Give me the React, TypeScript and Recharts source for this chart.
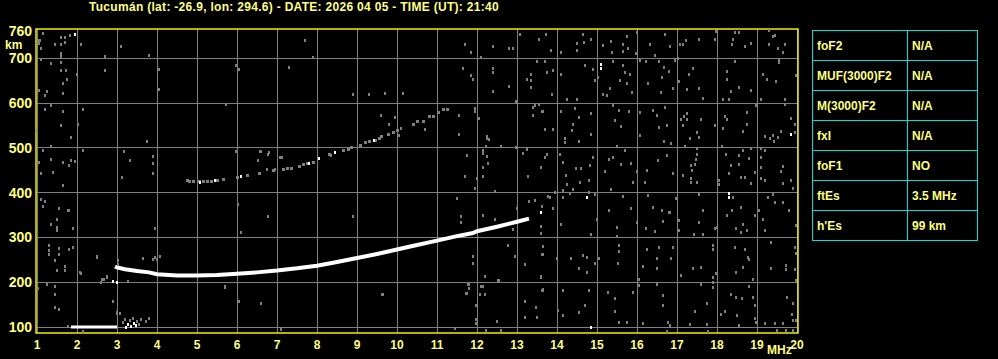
import React from 'react';
import { ComposedChart, XAxis, YAxis, CartesianGrid, Line, Scatter, ReferenceArea } from 'recharts';

const TITLE = 'Tucumán (lat: -26.9, lon: 294.6) - DATE: 2026 04 05 - TIME (UT): 21:40';
const freqTicks = [1, 2, 3, 4, 5, 6, 7, 8, 9, 10, 11, 12, 13, 14, 15, 16, 17, 18, 19, 20];
const heightTicks = [100, 200, 300, 400, 500, 600, 700, 760];
const gridHeights = [100, 200, 300, 400, 500, 600, 700];
const freqDomain = [0.975, 20.025];
const heightDomain = [86.6, 765.6];

const tableRows: [string, string][] = [
  ['foF2', 'N/A'],
  ['MUF(3000)F2', 'N/A'],
  ['M(3000)F2', 'N/A'],
  ['fxI', 'N/A'],
  ['foF1', 'NO'],
  ['ftEs', '3.5 MHz'],
  ["h'Es", '99 km'],
];

// sporadic E trace (white)
const esTrace: [number, number][] = [[1.85, 100], [2.4, 100], [3.0, 100]];

// main E/F trace (white)
const fTrace: [number, number][] = [
  [2.95, 235], [3.0, 233], [3.2, 229], [3.5, 225], [3.8, 222], [4.0, 218], [4.5, 215], [5.0, 215],
  [5.5, 216], [6.0, 219], [6.5, 222], [7.0, 226], [7.5, 231], [8.0, 237], [8.5, 245], [9.0, 254],
  [9.5, 263], [10.0, 273], [10.5, 283], [11.0, 293], [11.5, 303], [11.9, 310], [12.0, 314],
  [12.5, 324], [13.0, 335], [13.3, 342],
];

// second-hop trace (gray echoes)
const multiHop: [number, number][] = [
  [4.75, 428], [4.82, 426], [4.9, 424], [5.05, 425], [5.15, 426], [5.25, 424], [5.35, 425], [5.5, 427],
  [5.65, 430], [6.0, 435], [6.25, 438], [6.55, 443], [6.9, 449], [7.15, 452], [7.25, 454], [7.35, 455],
  [7.55, 458], [7.65, 462], [7.75, 465], [7.9, 467], [8.3, 485], [8.65, 494], [8.78, 497], [8.86, 500],
  [9.09, 505], [9.21, 512], [9.3, 514], [9.45, 517], [9.55, 520], [9.61, 526], [9.79, 531], [9.9, 535],
  [10.0, 540], [10.4, 552], [10.5, 559], [10.65, 559], [10.82, 570], [10.9, 570], [11.03, 579],
  [11.15, 585], [11.26, 586],
];

// bright isolated echoes (white)
const whiteEchoes: [number, number][] = [
  [2.91, 201], [3.0, 200], [5.08, 423], [5.45, 428], [6.1, 436], [7.8, 466], [8.05, 477], [8.45, 489],
  [9.42, 516], [13.59, 355], [14.74, 390], [13.6, 355], [14.84, 99], [15.09, 687], [15.09, 678],
  [18.29, 399], [18.29, 390], [19.84, 531], [1.95, 754], [3.22, 100], [3.28, 106], [3.35, 101],
  [3.42, 108], [3.48, 103],
];

const noiseLow: [number, number][] = [
  [1.14, 756], [1.59, 747], [1.7, 747], [1.83, 750], [1.03, 741], [1.08, 739], [1.06, 733], [1.45, 730],
  [1.59, 730], [1.7, 735], [2.09, 730], [1.09, 722], [1.59, 711], [1.59, 704], [1.09, 698], [1.34, 689],
  [1.59, 691], [2.7, 704], [2.7, 674], [1.59, 674], [1.73, 674], [1.74, 652], [1.64, 644], [1.99, 663],
  [1.05, 628], [1.2, 618], [1.24, 625], [1.64, 622], [1.2, 586], [1.34, 594], [1.64, 581], [2.14, 586],
  [2.03, 553], [1.59, 549], [1.84, 523], [1.0, 540], [1.14, 495], [1.34, 503], [2.14, 495], [1.05, 467],
  [1.34, 474], [1.39, 445], [1.66, 468], [1.81, 460], [1.84, 471], [1.95, 469], [1.09, 443], [1.64, 417],
  [1.2, 380], [1.09, 385], [1.14, 369], [1.55, 365], [1.8, 361], [1.49, 341], [1.34, 330], [1.49, 323],
  [1.49, 315], [1.89, 320], [1.78, 360], [1.3, 281], [1.3, 271], [1.3, 261], [1.56, 276], [1.56, 261],
  [1.45, 248], [1.49, 226], [1.7, 235], [1.7, 226], [1.8, 272], [1.89, 278], [2.49, 256], [2.09, 219],
  [2.62, 205], [2.74, 211], [1.03, 187], [1.24, 194], [1.45, 190], [1.45, 172], [1.45, 144], [1.56, 140],
  [2.89, 157], [3.01, 131], [1.78, 102], [2.14, 90], [3.09, 727], [3.79, 706], [4.04, 675], [4.04, 630],
  [3.75, 514], [3.13, 433], [3.18, 491], [3.33, 473], [3.27, 201], [3.07, 131], [3.79, 119], [3.73, 112],
  [3.03, 248], [3.03, 239], [2.49, 257], [3.65, 254], [3.9, 250], [3.95, 255], [2.6, 200], [2.68, 206],
  [2.75, 213], [2.08, 221], [2.9, 156], [3.0, 133], [3.91, 480], [3.91, 466], [3.91, 443], [3.95, 320],
  [4.0, 250], [4.08, 257], [3.15, 110], [3.32, 114], [3.5, 112], [3.55, 106], [3.6, 116], [3.2, 117],
  [3.4, 118],
];

const noiseMid: [number, number][] = [
  [5.98, 684], [6.04, 675], [5.73, 598], [7.29, 679], [7.69, 739], [7.9, 703], [9.69, 621], [10.15, 621],
  [11.69, 731], [11.84, 712], [12.09, 701], [12.4, 726], [12.79, 723], [12.9, 723], [13.07, 753],
  [13.54, 743], [11.65, 678], [11.84, 661], [11.9, 652], [12.4, 678], [12.4, 669], [12.4, 626],
  [12.79, 637], [13.26, 652], [13.36, 665], [13.36, 650], [13.36, 634], [13.49, 693], [12.98, 603],
  [11.94, 589], [11.96, 581], [12.04, 565], [11.54, 572], [11.54, 529], [12.26, 526], [12.29, 518],
  [12.23, 504], [12.59, 504], [12.98, 500], [13.26, 496], [13.4, 591], [13.46, 594], [13.54, 598],
  [13.4, 572], [13.62, 581], [9.61, 572], [9.94, 567], [10.09, 544], [10.05, 527], [9.79, 553],
  [10.69, 541], [5.98, 492], [6.59, 492], [6.79, 489], [11.74, 484], [12.16, 488], [12.28, 466],
  [12.16, 457], [11.7, 437], [12.16, 437], [11.95, 410], [12.45, 402], [13.16, 488], [13.28, 436],
  [13.59, 457], [13.78, 391], [13.31, 380], [13.45, 382], [13.62, 369], [13.59, 324], [13.59, 309],
  [13.62, 261], [12.99, 365], [12.78, 283], [12.95, 257], [13.2, 239], [13.59, 213], [13.66, 183],
  [12.53, 204], [12.2, 213], [12.14, 190], [12.08, 172], [11.78, 194], [11.76, 175], [11.91, 257],
  [11.89, 242], [11.59, 347], [11.59, 333], [11.49, 386], [12.14, 350], [12.45, 339], [12.91, 317],
  [9.63, 172], [5.7, 190], [8.89, 346], [6.78, 346], [6.09, 311], [6.03, 373], [6.58, 492], [6.78, 486],
  [6.53, 473], [6.74, 451], [6.95, 451], [7.12, 479], [8.34, 484], [5.69, 189], [6.04, 157], [6.59, 153],
  [7.09, 95], [9.65, 172], [11.44, 97], [11.79, 194], [11.79, 185], [11.73, 174], [12.09, 190],
  [12.19, 172], [12.19, 212], [12.54, 204], [11.98, 147], [11.98, 116], [11.98, 108], [12.5, 112],
  [12.23, 93], [12.59, 93], [13.19, 157], [13.19, 121], [13.48, 143], [13.51, 121], [13.59, 212],
  [13.62, 181], [7.08, 478], [8.9, 620], [9.3, 620], [11.95, 588], [12.03, 566], [12.25, 522],
  [12.16, 495], [12.25, 481], [11.99, 432],
];

const noiseHigh1: [number, number][] = [
  [13.73, 754], [14.66, 754], [14.68, 736], [14.49, 734], [14.84, 742], [15.16, 728], [15.34, 737],
  [15.74, 749], [15.66, 732], [15.78, 721], [16.01, 757], [16.33, 732], [16.7, 754], [13.85, 717],
  [14.09, 712], [14.49, 717], [15.37, 713], [15.64, 715], [15.97, 710], [16.45, 706], [13.7, 693],
  [13.91, 672], [13.74, 669], [14.1, 665], [14.7, 684], [14.89, 675], [14.95, 650], [15.03, 658],
  [15.41, 693], [15.66, 685], [15.7, 669], [15.83, 665], [15.58, 650], [15.76, 643], [15.33, 632],
  [15.16, 620], [15.24, 618], [15.87, 624], [16.08, 695], [16.23, 693], [16.56, 693], [16.68, 680],
  [16.27, 643], [16.62, 658], [16.81, 670], [16.59, 624], [13.87, 620], [14.24, 609], [14.49, 608],
  [13.66, 581], [14.11, 581], [14.45, 587], [14.55, 568], [14.85, 576], [15.41, 594], [15.55, 583],
  [15.79, 581], [15.45, 561], [15.6, 548], [16.08, 579], [16.41, 583], [16.51, 573], [16.71, 591],
  [13.69, 541], [13.89, 541], [14.2, 522], [14.41, 553], [14.37, 538], [14.56, 514], [14.84, 531],
  [16.08, 527], [16.56, 545], [16.74, 550], [16.68, 514], [14.2, 512], [15.51, 504], [15.7, 494],
  [13.74, 486], [13.7, 479], [13.6, 457], [14.08, 486], [14.14, 468], [14.23, 438], [14.26, 419],
  [14.48, 453], [14.59, 454], [14.83, 460], [14.89, 479], [14.58, 423], [14.14, 405], [14.41, 408],
  [14.81, 427], [15.2, 447], [15.31, 474], [15.41, 479], [15.6, 464], [15.85, 466], [15.99, 447],
  [16.24, 449], [16.52, 473], [16.74, 483], [16.2, 423], [15.89, 422], [13.96, 401], [14.33, 399],
  [13.83, 390], [13.91, 364], [14.16, 390], [14.81, 401], [14.95, 397], [15.34, 408], [15.64, 391],
  [16.28, 393], [16.41, 367], [16.62, 360], [16.81, 356], [15.3, 360], [15.84, 364], [14.99, 341],
  [14.1, 330], [15.51, 323], [15.99, 334], [16.23, 319], [16.45, 313], [16.66, 335], [13.6, 308],
  [14.84, 306], [15.51, 303], [15.56, 283], [15.55, 268], [16.24, 274], [16.54, 278], [16.51, 252],
  [13.66, 280], [13.64, 261], [13.99, 252], [14.35, 252], [14.64, 260], [14.74, 256], [14.95, 241],
  [15.05, 252], [15.52, 241], [16.16, 236], [16.49, 231], [14.56, 231], [14.74, 222], [13.6, 211],
  [16.06, 206], [16.06, 193], [16.49, 194], [13.66, 181], [14.14, 181], [14.81, 181], [15.28, 176],
  [15.45, 163], [15.89, 178], [16.66, 170], [14.03, 137], [14.14, 126], [14.55, 133], [14.7, 148],
  [15.45, 135], [15.74, 111], [15.56, 111], [16.14, 107], [16.66, 148], [16.78, 111], [16.74, 90],
];

const noiseHigh2: [number, number][] = [
  [16.82, 727], [17.07, 732], [17.15, 730], [17.23, 739], [17.55, 743], [17.98, 760], [17.96, 743],
  [18.4, 743], [18.38, 732], [18.44, 757], [18.55, 757], [18.71, 727], [18.84, 734], [19.3, 762],
  [19.4, 749], [19.44, 752], [19.69, 732], [19.53, 721], [19.65, 712], [19.3, 732], [16.94, 695],
  [17.03, 699], [16.8, 670], [17.05, 648], [16.9, 633], [17.3, 665], [17.4, 678], [17.55, 632],
  [17.25, 630], [17.65, 611], [18.44, 693], [18.25, 670], [18.25, 652], [18.54, 635], [18.34, 626],
  [18.15, 608], [18.29, 608], [18.84, 628], [19.15, 665], [19.25, 652], [19.48, 648], [19.55, 698],
  [19.55, 691], [19.98, 661], [19.69, 608], [19.09, 608], [19.69, 598], [17.11, 563], [17.18, 570],
  [17.15, 550], [17.25, 576], [17.25, 563], [17.59, 563], [17.51, 535], [17.55, 524], [17.32, 521],
  [17.21, 504], [16.86, 509], [17.94, 550], [18.15, 544], [18.21, 570], [18.26, 563], [18.75, 579],
  [18.75, 553], [18.65, 536], [18.98, 594], [19.19, 526], [19.32, 521], [19.4, 527], [19.43, 514],
  [19.53, 524], [19.61, 536], [19.84, 566], [19.94, 553], [19.94, 535], [17.51, 498], [17.51, 486],
  [17.48, 474], [17.34, 460], [17.44, 464], [17.38, 449], [17.15, 439], [16.9, 442], [17.34, 432],
  [17.34, 422], [17.51, 422], [18.13, 504], [18.23, 486], [18.54, 483], [18.65, 494], [18.79, 477],
  [18.84, 498], [18.34, 460], [18.54, 464], [18.29, 442], [18.59, 434], [18.71, 434], [18.94, 444],
  [18.86, 420], [18.04, 427], [18.04, 419], [19.09, 498], [19.19, 494], [19.11, 479], [19.09, 457],
  [19.09, 431], [19.19, 427], [19.61, 447], [19.65, 459], [19.86, 427], [19.9, 410], [19.65, 420],
  [18.4, 390], [17.55, 396], [16.98, 386], [16.82, 356], [17.04, 338], [17.04, 315], [17.65, 360],
  [17.55, 334], [17.94, 319], [18.01, 323], [17.43, 306], [17.65, 306], [18.25, 350], [18.38, 360],
  [18.59, 367], [18.48, 320], [18.59, 312], [18.65, 328], [18.76, 315], [18.94, 349], [19.04, 360],
  [19.15, 341], [19.19, 315], [19.28, 390], [19.4, 395], [19.44, 377], [19.65, 377], [19.79, 360],
  [19.98, 326], [16.9, 278], [16.84, 254], [17.09, 216], [17.4, 231], [17.59, 233], [17.9, 282],
  [17.9, 274], [17.98, 219], [17.9, 211], [17.9, 200], [18.44, 278], [18.69, 273], [18.77, 256],
  [18.79, 250], [18.65, 233], [18.48, 221], [18.9, 207], [19.34, 289], [19.94, 278], [19.97, 265],
  [19.34, 231], [19.73, 237], [19.73, 228], [19.94, 228], [19.98, 204], [17.59, 194], [17.9, 189],
  [17.44, 135], [17.76, 152], [18.09, 129], [18.19, 135], [18.36, 172], [18.48, 166], [18.63, 163],
  [18.9, 166], [18.94, 149], [18.8, 191], [18.51, 125], [18.96, 119], [18.98, 111], [19.19, 107],
  [19.46, 107], [19.65, 107], [19.76, 166], [19.9, 152], [19.88, 129], [19.9, 114], [19.98, 114],
  [16.82, 103], [17.32, 105], [17.76, 105], [18.54, 103], [19.51, 92], [19.73, 92], [19.9, 92],
  [17.78, 90],
];

const toPts = (arr: [number, number][]) => arr.map(([f, h]) => ({ f, h }));
const noisePts = toPts([...noiseLow, ...noiseMid, ...noiseHigh1, ...noiseHigh2]);

const YELLOW_TEXT = '#ffff80';
const FONT = '"Liberation Sans", Arial, sans-serif';

const GrayDot = (props: any) => {
  const { cx, cy } = props;
  if (cx == null || cy == null) return null;
  return <rect x={Math.round(cx - 1)} y={Math.round(cy - 1.5)} width={2} height={3} fill="#808080" />;
};
const GrayBlock = (props: any) => {
  const { cx, cy } = props;
  if (cx == null || cy == null) return null;
  return <rect x={Math.round(cx - 1.5)} y={Math.round(cy - 1.5)} width={3} height={3} fill="#808080" />;
};
const WhiteDot = (props: any) => {
  const { cx, cy } = props;
  if (cx == null || cy == null) return null;
  return <rect x={Math.round(cx - 1)} y={Math.round(cy - 1.5)} width={2} height={3} fill="#ffffff" />;
};

const css = `
.recharts-cartesian-grid line { shape-rendering: crispEdges; }
.recharts-scatter rect { shape-rendering: crispEdges; }
`;

export default function App() {
  return (
    <div style={{ position: 'absolute', left: 0, top: 0, width: 998, height: 359, background: '#000', overflow: 'hidden', fontFamily: FONT }}>
      <style>{css}</style>
      <div style={{ position: 'absolute', left: 0, top: 0, width: 588, textAlign: 'center', color: YELLOW_TEXT, fontSize: 12, letterSpacing: 0.3, fontWeight: 'bold', lineHeight: '14px' }}>
        {TITLE}
      </div>
      <ComposedChart width={998} height={359} margin={{ top: 29, right: 200, bottom: 0, left: 0 }}>
        <CartesianGrid stroke="#808080" strokeWidth={1} horizontalValues={gridHeights} verticalValues={freqTicks} />
        <XAxis
          type="number"
          dataKey="f"
          domain={freqDomain}
          ticks={freqTicks}
          allowDataOverflow
          height={26}
          axisLine={false}
          tickLine={false}
          tickSize={0}
          tickMargin={7}
          interval={0}
          tick={{ fill: YELLOW_TEXT, fontSize: 12, fontWeight: 'bold', fontFamily: FONT }}
        />
        <YAxis
          type="number"
          dataKey="h"
          domain={heightDomain}
          ticks={heightTicks}
          allowDataOverflow
          width={36}
          axisLine={false}
          tickLine={false}
          tickSize={0}
          tickMargin={4}
          interval={0}
          tick={{ fill: YELLOW_TEXT, fontSize: 14, fontWeight: 'bold', fontFamily: FONT }}
        />
        <Scatter data={noisePts} dataKey="h" shape={GrayDot} isAnimationActive={false} />
        <Scatter data={toPts(multiHop)} dataKey="h" shape={GrayBlock} isAnimationActive={false} />
        <Line data={toPts(esTrace)} dataKey="h" stroke="#ffffff" strokeWidth={3} dot={false} type="linear" isAnimationActive={false} />
        <Line data={toPts(fTrace)} dataKey="h" stroke="#ffffff" strokeWidth={4} dot={false} type="linear" isAnimationActive={false} />
        <Scatter data={toPts(whiteEchoes)} dataKey="h" shape={WhiteDot} isAnimationActive={false} />
        <ReferenceArea x1={freqDomain[0]} x2={freqDomain[1]} y1={heightDomain[0]} y2={heightDomain[1]} fill="none" stroke="#f0f000" strokeWidth={1.5} ifOverflow="visible" />
      </ComposedChart>
      <div style={{ position: 'absolute', left: 5, top: 38, color: YELLOW_TEXT, fontSize: 12, fontWeight: 'bold' }}>km</div>
      <div style={{ position: 'absolute', left: 767, top: 343, color: YELLOW_TEXT, fontSize: 12, fontWeight: 'bold' }}>MHz</div>
      <table style={{ position: 'absolute', left: 812, top: 30, borderCollapse: 'collapse', width: 166, color: YELLOW_TEXT, fontSize: 12, fontWeight: 'bold', fontFamily: FONT }}>
        <tbody>
          {tableRows.map(([k, v]) => (
            <tr key={k} style={{ height: 30 }}>
              <td style={{ border: '1px solid #00e0e0', width: 90, padding: '0 0 0 4px' }}>{k}</td>
              <td style={{ border: '1px solid #00e0e0', padding: '0 0 0 4px' }}>{v}</td>
            </tr>
          ))}
        </tbody>
      </table>
    </div>
  );
}
